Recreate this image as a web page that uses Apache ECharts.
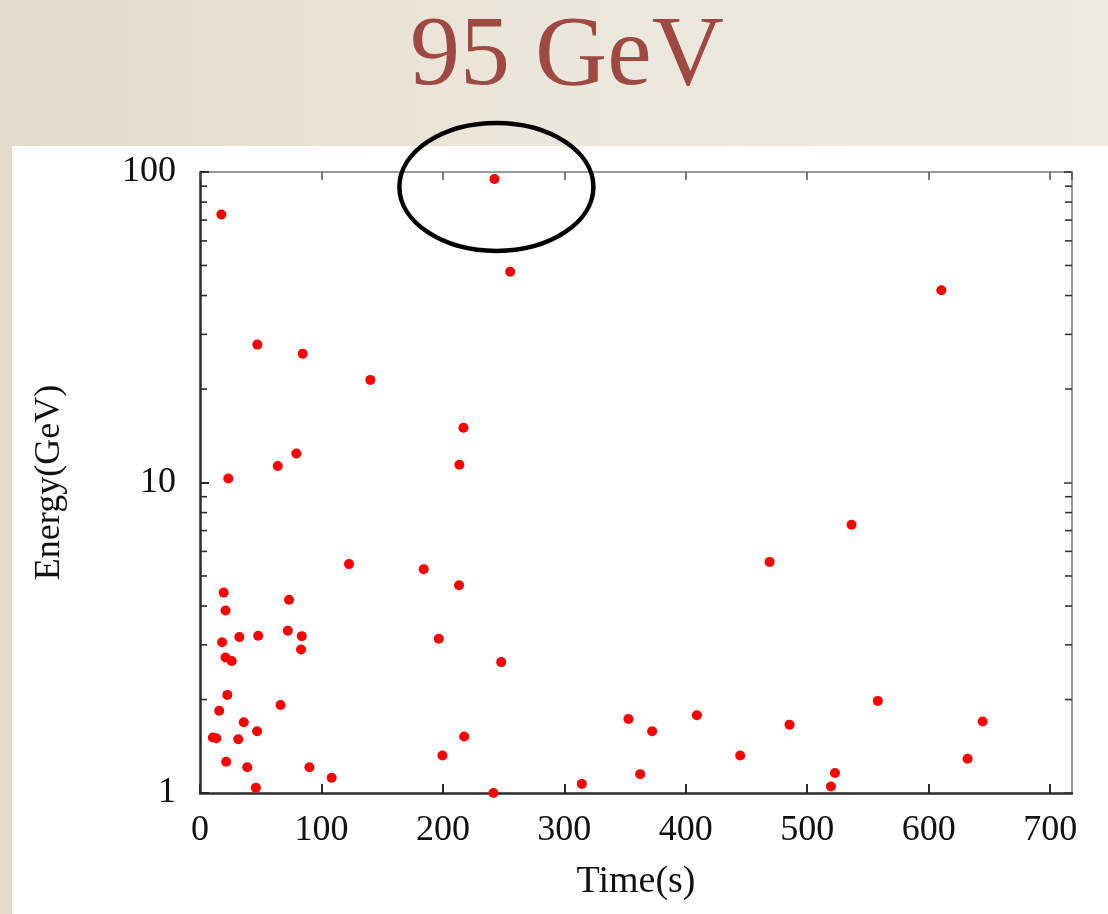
<!DOCTYPE html>
<html>
<head>
<meta charset="utf-8">
<title>95 GeV</title>
<script src="https://cdn.jsdelivr.net/npm/echarts@6/dist/echarts.min.js"></script>
<style>
  html, body { margin: 0; padding: 0; }
  body {
    width: 1108px; height: 914px; overflow: hidden;
    background: linear-gradient(90deg, #e2dacb 0%, #e8e1d4 25%, #ece7dd 55%, #eeeae2 100%);
  }
  #chart { width: 1108px; height: 914px; }
</style>
</head>
<body>
<div id="chart"></div>
<script>
// Photon arrival times (s) and energies (GeV)
const times = [17.6, 47.2, 84.6, 140.3, 216.9, 79.3, 64.0, 213.6, 23.3, 122.7,
  184.2, 213.3, 19.5, 73.3, 21.0, 18.2, 32.4, 47.9, 72.3, 83.8,
  83.2, 196.6, 21.0, 26.1, 22.5, 15.8, 66.3, 36.0, 47.0, 10.6,
  13.4, 31.5, 217.5, 21.5, 38.9, 90.1, 108.4, 199.6, 46.0, 242.4,
  255.4, 248.0, 352.8, 372.3, 409.1, 444.8, 362.4, 314.4, 241.6, 610.4,
  536.5, 469.0, 558.1, 485.4, 644.4, 632.0, 522.8, 519.5];
const energies = [73.0, 27.8, 26.0, 21.4, 15.0, 12.4, 11.3, 11.4, 10.3, 5.46,
  5.26, 4.67, 4.42, 4.19, 3.87, 3.06, 3.18, 3.21, 3.33, 3.20,
  2.90, 3.14, 2.73, 2.66, 2.07, 1.84, 1.92, 1.69, 1.58, 1.51,
  1.50, 1.49, 1.52, 1.26, 1.21, 1.21, 1.12, 1.32, 1.04, 95,
  47.7, 2.64, 1.73, 1.58, 1.78, 1.32, 1.15, 1.07, 1.0, 41.6,
  7.31, 5.55, 1.98, 1.66, 1.70, 1.29, 1.16, 1.05];

// Axis ranges and tick values
const xTickStep = 100;
const xRange = [0, 718];
const yRange = [1, 100];
const yMinorTicks = [2, 3, 4, 5, 6, 7, 8, 9, 20, 30, 40, 50, 60, 70, 80, 90];

// Highlighted event
const highlightTime = 242.4;
const highlightEnergy = 95;
const titleText = '95 GeV';

const points = times.map((t, i) => [t, energies[i]]);

const serif = '"Liberation Serif", "DejaVu Serif", serif';
const chart = echarts.init(document.getElementById('chart'), null, { renderer: 'canvas' });

const darkLine = { lineStyle: { color: '#2a2a2a', width: 2.5 } };
const lightLine = { lineStyle: { color: '#9a9a9a', width: 2 } };

chart.setOption({
  backgroundColor: 'transparent',
  animation: false,
  grid: { left: 200, top: 172, width: 872, height: 621, show: false },
  xAxis: [
    {
      type: 'value', position: 'bottom', min: xRange[0], max: xRange[1], interval: xTickStep,
      name: 'Time(s)', nameLocation: 'middle', nameGap: 70,
      nameTextStyle: { fontFamily: serif, fontSize: 38, color: '#111' },
      axisLine: { show: true, onZero: false, ...darkLine },
      axisTick: { show: true, inside: true, length: 9, lineStyle: { color: '#2a2a2a', width: 2 } },
      axisLabel: { margin: 20, fontFamily: serif, fontSize: 36, color: '#111', showMaxLabel: false },
      splitLine: { show: false }
    },
    {
      type: 'value', position: 'top', min: xRange[0], max: xRange[1], interval: xTickStep,
      axisLine: { show: true, onZero: false, ...lightLine },
      axisTick: { show: true, inside: true, length: 8, lineStyle: { color: '#555', width: 1.5 } },
      axisLabel: { show: false },
      splitLine: { show: false }
    }
  ],
  yAxis: [
    {
      type: 'log', logBase: 10, min: yRange[0], max: yRange[1], position: 'left',
      name: 'Energy(GeV)', nameLocation: 'middle', nameGap: 132, nameRotate: 90,
      nameTextStyle: { fontFamily: serif, fontSize: 36, color: '#111' },
      axisLine: { show: true, onZero: false, ...darkLine },
      axisTick: { show: true, inside: true, length: 9, lineStyle: { color: '#2a2a2a', width: 2 } },
      axisLabel: { margin: 24, fontFamily: serif, fontSize: 36, color: '#111',
        formatter: v => String(Math.round(v)) },
      splitLine: { show: false }
    },
    {
      type: 'log', logBase: 10, min: yRange[0], max: yRange[1], position: 'right',
      axisLine: { show: true, onZero: false, ...lightLine },
      axisTick: { show: true, inside: true, length: 8, lineStyle: { color: '#333', width: 1.5 } },
      axisLabel: { show: false },
      splitLine: { show: false }
    }
  ],
  graphic: [
    {
      id: 'panel', type: 'rect', z: -10, silent: true,
      shape: { x: 12, y: 146, width: 1096, height: 768 },
      style: { fill: '#ffffff' }
    },
    {
      id: 'title', type: 'text', z: 10, silent: true,
      x: 567, y: 58,
      style: {
        text: titleText, fill: '#9e4a42',
        font: '100px ' + serif,
        textAlign: 'center', textVerticalAlign: 'middle'
      }
    }
  ],
  series: [
    {
      // minor ticks of the logarithmic energy axis, on both vertical borders
      type: 'custom', silent: true, z: 3, clip: false,
      xAxisIndex: 0, yAxisIndex: 0,
      data: yMinorTicks.map(v => [xRange[0], v]),
      encode: { x: 0, y: 1 },
      renderItem: function (params, api) {
        const p = api.coord([xRange[0], api.value(1)]);
        const cs = params.coordSys;
        return {
          type: 'group',
          children: [
            { type: 'line', shape: { x1: cs.x, y1: p[1], x2: cs.x + 7, y2: p[1] },
              style: { stroke: '#2a2a2a', lineWidth: 1.6 } },
            { type: 'line', shape: { x1: cs.x + cs.width, y1: p[1], x2: cs.x + cs.width - 7, y2: p[1] },
              style: { stroke: '#333', lineWidth: 1.6 } }
          ]
        };
      }
    },
    {
      type: 'scatter', xAxisIndex: 0, yAxisIndex: 0, z: 5,
      symbol: 'circle', symbolSize: 10,
      itemStyle: { color: '#ff0000', opacity: 1 },
      data: points
    }
  ]
});

// Ring drawn around the highest-energy event
const c = chart.convertToPixel({ xAxisIndex: 0, yAxisIndex: 0 }, [highlightTime, highlightEnergy]);
chart.setOption({
  graphic: [
    {
      id: 'ring', type: 'ellipse', z: 20, silent: true,
      shape: { cx: c[0] + 2, cy: c[1] + 8, rx: 97, ry: 64 },
      style: { fill: 'none', stroke: '#000', lineWidth: 4.5 }
    }
  ]
});
</script>
</body>
</html>
